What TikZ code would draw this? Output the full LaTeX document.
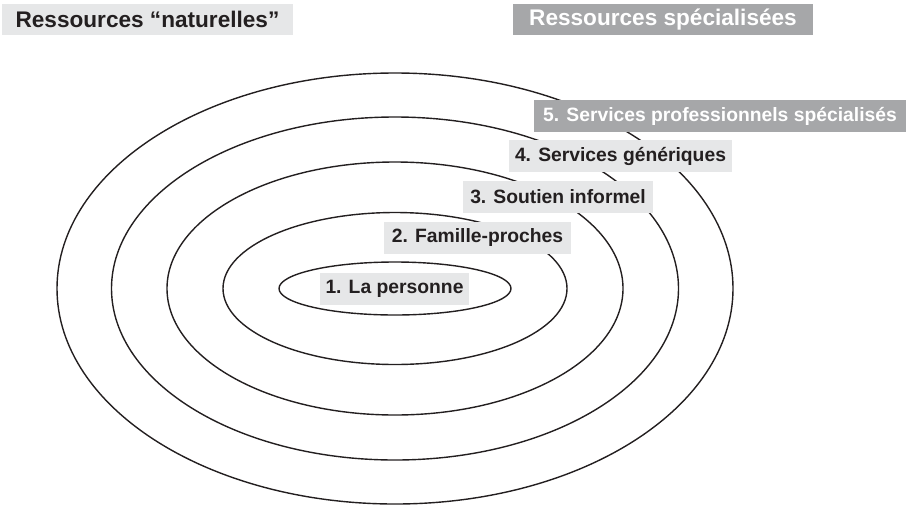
\documentclass[tikz,border=0pt]{standalone}
\usepackage{fontspec}
\setmainfont{Liberation Sans}
\definecolor{lightbox}{HTML}{E6E7E8}
\definecolor{darkbox}{HTML}{A6A7A9}
\definecolor{ink}{HTML}{231F20}
\begin{document}
\begin{tikzpicture}[x=1pt,y=-1pt,
  ring/.style={draw=ink,line width=1.4pt},
  lbl/.style={fill=lightbox,text=ink,font=\bfseries\fontsize{19.3}{23}\selectfont,inner sep=0pt,minimum height=32pt},
  lbldark/.style={lbl,fill=darkbox,text=white},
  hdr/.style={fill=lightbox,text=ink,font=\bfseries\fontsize{22.6}{27}\selectfont,inner sep=0pt,minimum height=31pt},
  hdrdark/.style={hdr,fill=darkbox,text=white}]
\useasboundingbox (0,0) rectangle (909,507);
\coordinate (c) at (395,288.5);
\draw[ring] (c) ellipse [x radius=338,y radius=215.5];
\draw[ring] (c) ellipse [x radius=283.5,y radius=171.5];
\draw[ring] (c) ellipse [x radius=228,y radius=126.5];
\draw[ring] (c) ellipse [x radius=172,y radius=76];
\draw[ring] (c) ellipse [x radius=116,y radius=26.5];
\node[hdr,minimum width=291pt] (hn) at (147.5,19.5) {Ressources “naturelles”};
\node[hdrdark,minimum width=300pt] (hs) at (663,19.5) {Ressources spécialisées};
\node[lbl,minimum width=149pt] (l1) at (394.5,289) {1. La personne};
\node[lbl,minimum width=187pt] (l2) at (477.5,237.5) {2. Famille-proches};
\node[lbl,minimum width=190pt] (l3) at (558,197) {3. Soutien informel};
\node[lbl,minimum width=223pt] (l4) at (620.5,156) {4. Services génériques};
\node[lbldark,minimum width=372pt] (l5) at (720,116) {5. Services professionnels spécialisés};
\end{tikzpicture}
\end{document}
